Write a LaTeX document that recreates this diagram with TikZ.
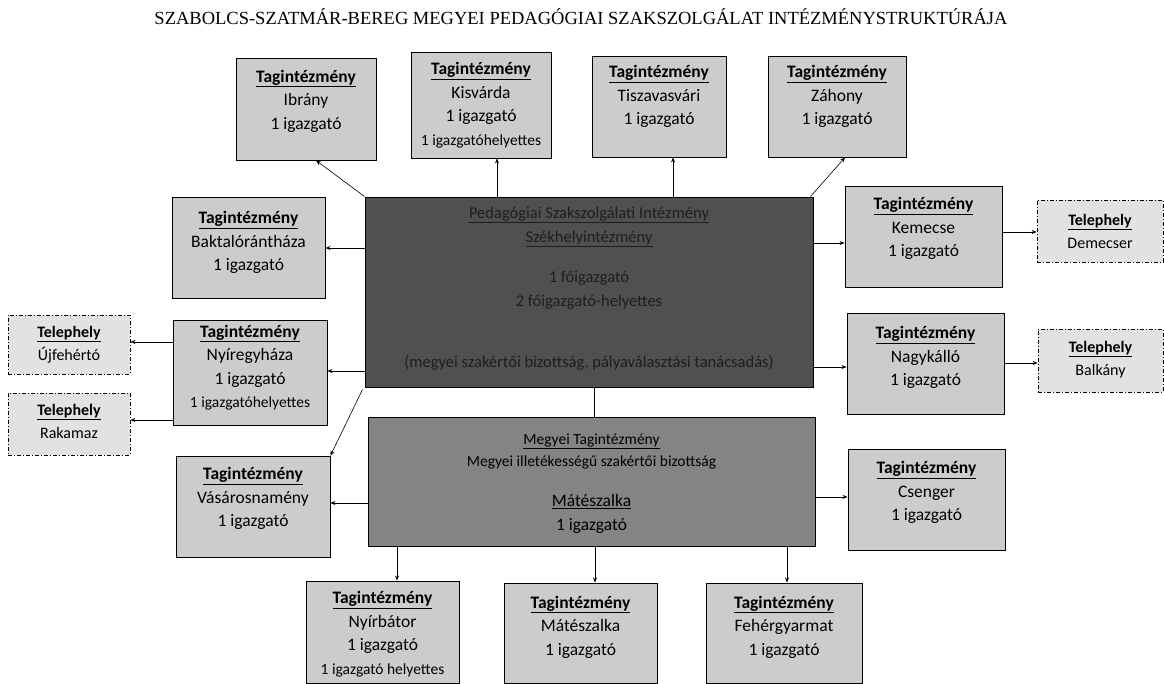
\documentclass[tikz,border=0pt]{standalone}
\usepackage{fontspec}
\setmainfont{Carlito}
\newfontfamily\titlefont{Liberation Serif}
\usetikzlibrary{arrows.meta}
\definecolor{lightbox}{RGB}{204,204,204}
\definecolor{telbox}{RGB}{226,226,226}
\definecolor{darkbox}{RGB}{80,80,80}
\definecolor{midbox}{RGB}{132,132,132}
\definecolor{darktext}{RGB}{30,30,30}
\tikzset{
  tbox/.style={draw=black, line width=0.9pt, fill=lightbox},
  telbox/.style={draw=black, line width=0.8pt, dash pattern=on 4pt off 2pt on 1pt off 2pt, fill=telbox},
  txt/.style={align=center, inner sep=0pt, font=\fontsize{17.5}{23.5}\selectfont},
  teltxt/.style={align=center, inner sep=0pt, font=\fontsize{16}{23}\selectfont},
  dtext/.style={text=darktext, inner sep=0pt, font=\fontsize{16.5}{18}\selectfont},
  mtext/.style={inner sep=0pt, font=\fontsize{15.5}{17}\selectfont},
  conn/.style={draw=black, line width=0.6pt, -{Stealth[length=5pt,width=4pt]}},
  plain/.style={draw=black, line width=0.6pt},
}
\newcommand{\taghd}{\textbf{\underline{Tagintézmény}}}
\newcommand{\telhd}{\textbf{\underline{Telephely}}}
\newcommand{\smallline}[1]{{\fontsize{15.5}{23.5}\selectfont #1}}
% #1 style, #2 name, #3 centre, #4 width, #5 height, #6 text shift up, #7 text style, #8 text
\newcommand{\boxnode}[8]{%
  \node[#1, minimum width=#4, minimum height=#5] (#2) at (#3) {};
  \node[#7] (#2-t) at ([yshift=#6]#2.center) {#8};}
\begin{document}
\begin{tikzpicture}[x=1pt,y=-1pt]
\useasboundingbox[fill=white] (0,0) rectangle (1164,684);
\node[font=\titlefont\fontsize{18.5}{20}\selectfont] (title) at (581,17)
  {SZABOLCS-SZATMÁR-BEREG MEGYEI PEDAGÓGIAI SZAKSZOLGÁLAT INTÉZMÉNYSTRUKTÚRÁJA};
% top row
\boxnode{tbox}{ibrany}{306,109}{140}{102}{8pt}{txt}{\taghd\\Ibrány\\1 igazgató}
\boxnode{tbox}{kisvarda}{481,105}{140}{106}{0pt}{txt}{\taghd\\Kisvárda\\1 igazgató\\\smallline{1 igazgatóhelyettes}}
\boxnode{tbox}{tisza}{659,106.5}{134}{101}{10pt}{txt}{\taghd\\Tiszavasvári\\1 igazgató}
\boxnode{tbox}{zahony}{837,106.5}{138}{101}{10pt}{txt}{\taghd\\Záhony\\1 igazgató}
% central
\node[draw=black, line width=0.9pt, fill=darkbox, minimum width=448, minimum height=190] (central) at (589,292) {};
\node[dtext] (c1) at (589,215) {\underline{Pedagógiai Szakszolgálati Intézmény}};
\node[dtext] (c2) at (589,239) {\underline{Székhelyintézmény}};
\node[dtext] (c3) at (589,278) {1 főigazgató};
\node[dtext] (c4) at (589,302) {2 főigazgató-helyettes};
\node[dtext] (c5) at (589,363) {(megyei szakértői bizottság, pályaválasztási tanácsadás)};
% left column
\boxnode{tbox}{bakta}{248.5,247.5}{153}{101}{5pt}{txt}{\taghd\\Baktalórántháza\\1 igazgató}
\boxnode{tbox}{nyir}{250,372.5}{154}{105}{5pt}{txt}{\taghd\\Nyíregyháza\\1 igazgató\\\smallline{1 igazgatóhelyettes}}
\boxnode{telbox}{ujfeh}{69,344.5}{122}{59}{0pt}{teltxt}{\telhd\\Újfehértó}
\boxnode{telbox}{rakamaz}{69,424}{122}{62}{3pt}{teltxt}{\telhd\\Rakamaz}
\boxnode{tbox}{vasaros}{253,506.5}{154}{101}{8pt}{txt}{\taghd\\Vásárosnamény\\1 igazgató}
% right column
\boxnode{tbox}{kemecse}{923.5,236.5}{157}{101}{8pt}{txt}{\taghd\\Kemecse\\1 igazgató}
\boxnode{telbox}{demecser}{1100,231}{126}{62}{0pt}{teltxt}{\telhd\\Demecser}
\boxnode{tbox}{nagykallo}{925.5,363.5}{157}{101}{6pt}{txt}{\taghd\\Nagykálló\\1 igazgató}
\boxnode{telbox}{balkany}{1100.5,360.5}{125}{63}{1pt}{teltxt}{\telhd\\Balkány}
\boxnode{tbox}{csenger}{926.5,499.5}{157}{101}{7pt}{txt}{\taghd\\Csenger\\1 igazgató}
% megyei
\node[draw=black, line width=0.9pt, fill=midbox, minimum width=447, minimum height=129] (megyei) at (591.5,481.5) {};
\node[mtext] (m1) at (591.5,441) {\underline{Megyei Tagintézmény}};
\node[mtext] (m2) at (591.5,462) {Megyei illetékességű szakértői bizottság};
\node[txt] (m3) at (591.5,514) {\underline{Mátészalka}\\1 igazgató};
% bottom row
\boxnode{tbox}{nyirbator}{382.5,632}{153}{102}{-2pt}{txt}{\taghd\\Nyírbátor\\1 igazgató\\\smallline{1 igazgató helyettes}}
\boxnode{tbox}{mate}{580.5,633}{153}{100}{6pt}{txt}{\taghd\\Mátészalka\\1 igazgató}
\boxnode{tbox}{feher}{784,633}{156}{100}{6pt}{txt}{\taghd\\Fehérgyarmat\\1 igazgató}
% connectors
\coordinate (cne) at ([xshift=-3pt]central.north east);
\coordinate (csw) at ([xshift=-2pt,yshift=-2pt]central.south west);
\draw[conn] (central.north west) -- (ibrany.south -| 316,0);
\draw[conn] (central.north -| 497,0) -- (kisvarda.south -| 497,0);
\draw[conn] (central.north -| 673,0) -- (tisza.south -| 673,0);
\draw[conn] (cne) -- (zahony.south -| 845,0);
\draw[conn] (central.west |- 0,248) -- (bakta.east |- 0,248);
\draw[conn] (central.west |- 0,371) -- (nyir.east |- 0,371);
\draw[conn] (central.east |- 0,243) -- (kemecse.west |- 0,243);
\draw[conn] (central.east |- 0,367) -- (nagykallo.west |- 0,367);
\draw[conn] (csw) -- (vasaros.north east);
\draw[plain] (central.south -| 594,0) -- (megyei.north -| 594,0);
\draw[conn] (kemecse.east |- 0,232) -- (demecser.west |- 0,232);
\draw[conn] (nagykallo.east |- 0,363) -- (balkany.west |- 0,363);
\draw[conn] (nyir.west |- 0,342) -- (ujfeh.east |- 0,342);
\draw[conn] (nyir.west |- 0,420) -- (rakamaz.east |- 0,420);
\draw[conn] (megyei.west |- 0,503) -- (vasaros.east |- 0,503);
\draw[conn] (megyei.east |- 0,497) -- (csenger.west |- 0,497);
\draw[conn] (megyei.south -| 397,0) -- (nyirbator.north -| 397,0);
\draw[conn] (megyei.south -| 595,0) -- (mate.north -| 595,0);
\draw[conn] (megyei.south -| 787,0) -- (feher.north -| 787,0);
\end{tikzpicture}
\end{document}
